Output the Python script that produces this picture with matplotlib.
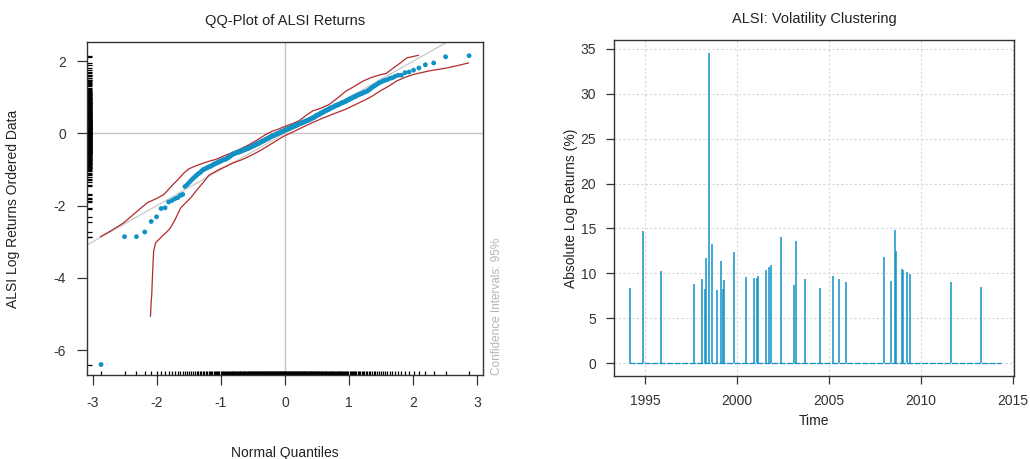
import numpy as np
import matplotlib.pyplot as plt
from statistics import NormalDist

plt.rcParams['font.family'] = ['Liberation Sans', 'DejaVu Sans']
plt.rcParams['axes.unicode_minus'] = False

# ===== data =====
# sorted (standardised) ALSI monthly log returns
qq_returns = [
    -6.40, -2.86, -2.86, -2.73, -2.44, -2.31, -2.08, -2.06, -1.90, -1.86, -1.81, -1.78, -1.72, -1.69,
    -1.47, -1.42, -1.36, -1.30, -1.25, -1.20, -1.16, -1.12, -1.09, -1.05, -1.01, -0.99, -0.97,
    -0.95, -0.93, -0.92, -0.90, -0.88, -0.86, -0.84, -0.83, -0.81, -0.80, -0.78, -0.77, -0.75,
    -0.74, -0.73, -0.72, -0.71, -0.69, -0.68, -0.66, -0.64, -0.62, -0.60, -0.58,
    -0.57, -0.56, -0.55, -0.54, -0.53, -0.52, -0.52, -0.51, -0.50, -0.49,
    -0.48, -0.47, -0.46, -0.45, -0.44, -0.43, -0.43, -0.42, -0.41, -0.40,
    -0.39, -0.38, -0.37, -0.36, -0.35, -0.34, -0.33, -0.32, -0.31, -0.30, -0.29, -0.28,
    -0.27, -0.26, -0.25, -0.24, -0.23, -0.22, -0.21, -0.20, -0.19, -0.18, -0.17,
    -0.16, -0.15, -0.14, -0.13, -0.12, -0.11, -0.10, -0.09, -0.08, -0.07, -0.06, -0.05, -0.05,
    -0.04, -0.03, -0.02, -0.01, 0.00, 0.00, 0.01, 0.02, 0.03, 0.04, 0.05, 0.05, 0.06, 0.07, 0.08, 0.09,
    0.10, 0.11, 0.11, 0.12, 0.13, 0.14, 0.15, 0.15, 0.16, 0.17, 0.18, 0.19, 0.19, 0.20,
    0.21, 0.22, 0.23, 0.23, 0.24, 0.25, 0.26, 0.27, 0.27, 0.28, 0.29, 0.30, 0.31, 0.31,
    0.32, 0.33, 0.34, 0.35, 0.35, 0.36, 0.37, 0.38, 0.39, 0.40, 0.41, 0.42, 0.43,
    0.44, 0.45, 0.46, 0.48, 0.49, 0.50, 0.51, 0.52, 0.53, 0.55, 0.56, 0.57, 0.58, 0.59,
    0.60, 0.62, 0.63, 0.64, 0.65, 0.66, 0.67, 0.69, 0.70, 0.71, 0.72, 0.73, 0.74, 0.76,
    0.77, 0.78, 0.79, 0.80, 0.81, 0.83, 0.84, 0.85, 0.86, 0.87, 0.88, 0.90,
    0.92, 0.93, 0.95, 0.96, 0.98, 0.99, 1.01, 1.02, 1.04, 1.06, 1.07, 1.09, 1.10, 1.12,
    1.14, 1.15, 1.17, 1.20, 1.23, 1.27, 1.30, 1.33, 1.36, 1.40,
    1.42, 1.45, 1.47, 1.49, 1.52, 1.54,
    1.58, 1.61, 1.61, 1.68, 1.70, 1.75, 1.81, 1.90, 1.95, 2.12, 2.15,
]

# 95% confidence band (upper / lower)
ci_upper_q = [-2.88, -2.70, -2.52, -2.35, -2.15, -2.00, -1.89, -1.75, -1.66, -1.58, -1.50,
              -1.42, -1.32, -1.20, -1.08, -0.95, -0.85, -0.77, -0.66, -0.56, -0.45, -0.38,
              -0.30, -0.20, -0.10, 0.02, 0.12, 0.22, 0.33, 0.43, 0.55, 0.69, 0.82, 0.95,
              1.08, 1.22, 1.35, 1.48, 1.58, 1.69, 1.80, 1.90, 2.00, 2.08]
ci_upper = [-2.86, -2.68, -2.48, -2.22, -1.92, -1.80, -1.69, -1.42, -1.26, -1.10, -0.98,
            -0.92, -0.85, -0.78, -0.72, -0.62, -0.55, -0.49, -0.40, -0.31, -0.20, -0.12,
            -0.03, 0.06, 0.12, 0.21, 0.27, 0.35, 0.50, 0.62, 0.69, 0.80, 0.98, 1.17,
            1.30, 1.45, 1.55, 1.62, 1.66, 1.81, 1.95, 2.09, 2.13, 2.16]
ci_lower_q = [-2.10, -2.09, -2.08, -2.07, -2.06, -2.05, -2.02, -1.92, -1.84, -1.79, -1.72,
              -1.63, -1.55, -1.47, -1.40, -1.32, -1.25, -1.19, -1.05, -0.92, -0.80, -0.66,
              -0.52, -0.40, -0.27, -0.14, -0.02, 0.10, 0.25, 0.43, 0.60, 0.80, 0.95, 1.10,
              1.22, 1.35, 1.48, 1.62, 1.74, 1.87, 2.00, 2.25, 2.52, 2.70, 2.86]
ci_lower = [-5.06, -4.70, -4.46, -4.00, -3.60, -3.26, -3.03, -2.85, -2.72, -2.62, -2.40,
            -2.07, -1.92, -1.78, -1.62, -1.45, -1.30, -1.16, -1.02, -0.91, -0.81, -0.72,
            -0.60, -0.49, -0.35, -0.21, -0.08, 0.02, 0.15, 0.30, 0.43, 0.57, 0.67, 0.80,
            0.90, 1.02, 1.17, 1.31, 1.45, 1.55, 1.63, 1.73, 1.81, 1.88, 1.95]
ref_intercept = 0.0
ref_slope = 1.0

# volatility clustering: months with large absolute log returns (%)
spike_years = [1994.15, 1994.89, 1995.87, 1997.64, 1998.11, 1998.24, 1998.29, 1998.49, 1998.65,
               1998.89, 1999.12, 1999.23, 1999.30, 1999.83, 2000.48, 2000.90, 2001.08, 2001.15,
               2001.55, 2001.71, 2001.84, 2002.36, 2003.08, 2003.19, 2003.68, 2004.49, 2005.20,
               2005.56, 2005.90, 2007.98, 2008.38, 2008.58, 2008.63, 2008.98, 2009.03, 2009.23,
               2009.41, 2011.65, 2013.25]
spike_abs_ret = [8.40, 14.74, 10.26, 8.77, 9.33, 8.28, 11.75, 34.6, 13.25,
                 8.10, 11.38, 8.21, 9.22, 12.39, 9.59, 9.44, 9.44, 9.66,
                 10.41, 10.75, 10.90, 14.07, 8.69, 13.58, 9.33, 8.32, 9.66,
                 9.33, 8.99, 11.87, 9.10, 14.81, 12.50, 10.45, 10.34, 10.19,
                 9.96, 8.99, 8.47]
series_start = 1994.1
series_end = 2014.35

text_col = '#222222'
blue = '#1192c6'
red = '#b22a2a'

fig = plt.figure(figsize=(10.3, 4.59), dpi=100)

# ===== QQ plot =====
ax = fig.add_axes([0.0845, 0.183, 0.3845, 0.7255])
n = len(qq_returns)
p = (np.arange(1, n + 1) - 0.5) / n
norm_q = np.array([NormalDist().inv_cdf(v) for v in p])

ax.axhline(0, color='#c4c4c4', lw=1, zorder=1)
ax.axvline(0, color='#c4c4c4', lw=1, zorder=1)
ax.axline((0, ref_intercept), slope=ref_slope, color='#cccccc', lw=1, zorder=1)
ax.plot(ci_upper_q, ci_upper, color=red, lw=0.9, zorder=2)
ax.plot(ci_lower_q, ci_lower, color=red, lw=0.9, zorder=2)
ax.scatter(norm_q, qq_returns, s=12, color=blue, edgecolors='none', zorder=3)

# rugs
ax.vlines(norm_q, 0, 0.013, transform=ax.get_xaxis_transform(), color='black', lw=0.9)
ax.hlines(qq_returns, 0, 0.012, transform=ax.get_yaxis_transform(), color='black', lw=0.9)

ax.set_xlim(-3.09, 3.09)
ax.set_ylim(-6.69, 2.53)
ax.set_xticks([-3, -2, -1, 0, 1, 2, 3])
ax.set_yticks([-6, -4, -2, 0, 2])
ax.set_title('QQ-Plot of ALSI Returns', fontsize=10.5, color=text_col, pad=12)
ax.set_xlabel('Normal Quantiles', fontsize=10, color=text_col, labelpad=26)
ax.set_ylabel('ALSI Log Returns Ordered Data', fontsize=10, color=text_col, labelpad=24)
ax.text(1.036, 0.0, 'Confidence Intervals: 95%', transform=ax.transAxes, rotation=90,
        fontsize=8.5, color='#b5b5b5', ha='center', va='bottom')
ax.tick_params(length=7, pad=8)

# ===== volatility clustering =====
ax2 = fig.add_axes([0.5961, 0.1808, 0.3883, 0.732])
ax2.grid(True, color='#d6d6d6', linestyle=(0, (2, 2)), lw=0.8)
ax2.set_axisbelow(True)
ax2.hlines(0, series_start, series_end, color=blue, lw=0.9, linestyle=(0, (5, 1)))
ax2.vlines(spike_years, 0, spike_abs_ret, color=blue, lw=1.1)

ax2.set_xlim(1993.3, 2015.05)
ax2.set_ylim(-1.45, 36.0)
ax2.set_xticks([1995, 2000, 2005, 2010, 2015])
ax2.set_yticks([0, 5, 10, 15, 20, 25, 30, 35])
ax2.set_title('ALSI: Volatility Clustering', fontsize=10.5, color=text_col, pad=12)
ax2.set_xlabel('Time', fontsize=10, color=text_col, labelpad=4)
ax2.set_ylabel('Absolute Log Returns (%)', fontsize=10, color=text_col, labelpad=2)
ax2.tick_params(length=6, pad=7)

for a in (ax, ax2):
    a.tick_params(labelsize=10, width=0.9, colors='#333333')
    for s in a.spines.values():
        s.set_color('#333333')
        s.set_linewidth(1.0)

plt.savefig('out.png', dpi=100)
